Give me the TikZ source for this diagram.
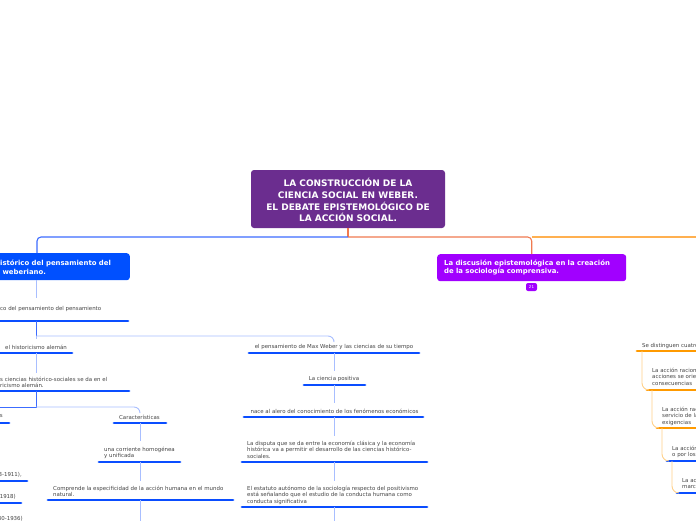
\documentclass[tikz,border=0pt]{standalone}
\usepackage{fontspec}
\setmainfont{DejaVu Sans}
\definecolor{rootc}{HTML}{6B2D8F}
\definecolor{ctxc}{HTML}{0050FF}
\definecolor{discc}{HTML}{A100FF}
\definecolor{ulc}{HTML}{0A4DFF}
\definecolor{olc}{HTML}{FF9A00}
\definecolor{lbc}{HTML}{A8BEFF}
\definecolor{dbc}{HTML}{3C6CFF}
\definecolor{loc}{HTML}{FFD18A}
\definecolor{txtc}{HTML}{444444}
\definecolor{rlc}{HTML}{F07A50}
\definecolor{orc}{HTML}{FFB050}
\begin{document}
\begin{tikzpicture}[x=1pt,y=-1pt,
 txt/.style={font=\fontsize{5.45}{6.7}\selectfont, text=txtc, inner sep=0pt, align=left, yshift=-1.2pt},
 btxt/.style={font=\bfseries\fontsize{6.9}{8.4}\selectfont, text=white, inner sep=0pt, align=left},
 uline/.style={draw=ulc, line width=2.8pt, line cap=round},
 oline/.style={draw=olc, line width=2.8pt, line cap=round},
 conn/.style={draw=lbc, line width=0.9pt, rounded corners=6pt},
 dconn/.style={draw=dbc, line width=1pt},
 oconn/.style={draw=loc, line width=0.9pt, rounded corners=7pt},
 rootbox/.style={fill=rootc, rounded corners=3pt, minimum width=194pt, minimum height=58pt, inner sep=0pt},
 roottxt/.style={text=white, font=\bfseries\fontsize{9}{11.7}\selectfont, align=center, inner sep=0pt},
 topbox/.style={rounded corners=3pt, minimum height=27pt, inner sep=0pt}]

\fill[white] (0,0) rectangle (696,520);
\useasboundingbox (0,0) rectangle (696,520);

% ---------- root and main branches ----------
\node[rootbox] (root) at (348,199) {};
\node[roottxt] (roott) at (348,200.3) {LA CONSTRUCCIÓN DE LA\\CIENCIA SOCIAL EN WEBER.\\EL DEBATE EPISTEMOLÓGICO DE\\LA ACCIÓN SOCIAL.};

\node[topbox, fill=ctxc, minimum width=200pt, anchor=north east] (ctx) at (130,253) {};
\node[btxt, anchor=north west] (ctxt) at (0,260.2) {\llap{Contexto h}istórico del pensamiento del\\\llap{pensamiento} weberiano.};

\node[topbox, fill=discc, text width=175pt, inner xsep=7pt, anchor=north west, font=\bfseries\fontsize{6.9}{8.4}\selectfont, text=white, align=left] (disc) at (437,254) {La discusión epistemológica en la creación\\de la sociología comprensiva.};
\node[fill=discc, rounded corners=2pt, minimum width=11pt, minimum height=8pt, inner sep=0pt, text=white, font=\fontsize{4}{4}\selectfont] (badge) at (531.5,287) {21};

\coordinate (hub) at (348,237);
\coordinate (ctxin) at (37,253);
\draw[draw=rlc, line width=1.1pt] (root.south) -- (hub);
\draw[draw=dbc, line width=1.1pt, rounded corners=4pt] (hub) -| (ctxin);
\draw[draw=rlc, line width=1.1pt, rounded corners=4pt] (hub) -| (disc.north);
\draw[draw=orc, line width=1.1pt] (disc.north |- hub) -- (700,237);

% ---------- left column ----------
\node[txt, anchor=north west] (ctxsub) at (0,304.3) {\llap{Contexto históri}co del pensamiento del pensamiento};
\draw[uline] (-5,321) -- (128,321);
\coordinate (ctxsubT) at (36,298);
\coordinate (ctxsubU) at (36,321);
\draw[conn] (ctx.south -| ctxsubT) -- (ctxsubT);

\coordinate (j1) at (36,336);
\node[txt, anchor=north west] (hist) at (5,343.3) {el historicismo alemán};
\draw[uline] (-5,353) -- (72,353);
\coordinate (histT) at (36,339);
\coordinate (histU) at (36,353);
\draw[dconn] (ctxsubU) -- (j1);
\draw[conn] (j1) -- (histT);

\node[txt, anchor=north west] (cienc) at (0,375.3) {\llap{El estudio de la}s ciencias histórico-sociales se da en el\\\llap{marco del histo}ricismo alemán.};
\draw[uline] (-5,391) -- (129,391);
\coordinate (ciencT) at (36,373);
\coordinate (ciencU) at (36,391);
\draw[conn] (histU) -- (ciencT);

\coordinate (j2) at (36,407);
\node[txt, anchor=north east] (repr) at (3,412.3) {Representantes};
\draw[uline] (-5,423) -- (9,423);
\node[txt, anchor=north] (carac) at (139.5,413.3) {Características};
\draw[uline] (114,423) -- (166,423);
\coordinate (caracT) at (140,413);
\coordinate (caracU) at (140,423);
\draw[dconn] (ciencU) -- (j2) -- (-6,407);
\draw[conn] (j2) -| (caracT);

\node[txt, anchor=north west] (homog) at (104,445.3) {una corriente homogénea\\y unificada};
\draw[uline] (99,462) -- (180,462);
\coordinate (homogT) at (140,441);
\coordinate (homogU) at (140,462);
\draw[conn] (caracU) -- (homogT);

\node[txt, anchor=north west] (compr) at (53,484.3) {Comprende la especificidad de la acción humana en el mundo\\natural.};
\draw[uline] (48,500) -- (233,500);
\coordinate (comprT) at (140,481);
\coordinate (comprU) at (140,500);
\coordinate (comprD) at (140,522);
\draw[conn] (homogU) -- (comprT);
\draw[conn] (comprU) -- (comprD);

\node[txt, anchor=north east] (dilt) at (22,471.3) {Wilhelm Dilthey (1833-1911),};
\draw[uline] (-5,481) -- (27,481);
\node[txt, anchor=north east] (simm) at (16,493.3) {Georg Simmel (1858-1918)};
\draw[uline] (-5,503) -- (21,503);
\node[txt, anchor=north east] (speng) at (23,515.3) {Oswald Spengler (1880-1936)};

% ---------- middle column ----------
\node[txt, anchor=north] (weber) at (334,343.3) {el pensamiento de Max Weber y las ciencias de su tiempo};
\draw[uline] (249,353) -- (419,353);
\coordinate (weberT) at (334,340);
\coordinate (weberU) at (334,353);
\draw[conn] (j1) -| (weberT);

\node[txt, anchor=north] (posit) at (334,375.3) {La ciencia positiva};
\draw[uline] (304,385) -- (365,385);
\coordinate (positT) at (334,371);
\coordinate (positU) at (334,385);
\draw[conn] (weberU) -- (positT);

\node[txt, anchor=north] (nace) at (334.5,407.3) {nace al alero del conocimiento de los fenómenos económicos};
\draw[uline] (244,417) -- (423,417);
\coordinate (naceT) at (334,403);
\coordinate (naceU) at (334,417);
\draw[conn] (positU) -- (naceT);

\node[txt, anchor=north west] (disp) at (247,439.3) {La disputa que se da entre la economía clásica y la economía\\histórica va a permitir el desarrollo de las ciencias histórico-\\sociales.};
\draw[uline] (242,462) -- (427,462);
\coordinate (dispT) at (334,436);
\coordinate (dispU) at (334,462);
\draw[conn] (naceU) -- (dispT);

\node[txt, anchor=north west] (estat) at (247,484.3) {El estatuto autónomo de la sociología respecto del positivismo\\está señalando que el estudio de la conducta humana como\\conducta significativa};
\draw[uline] (242,507) -- (427,507);
\coordinate (estatT) at (334,481);
\coordinate (estatU) at (334,507);
\coordinate (estatD) at (334,522);
\draw[conn] (dispU) -- (estatT);
\draw[conn] (estatU) -- (estatD);

% ---------- right column ----------
\node[txt, anchor=north west] (cuatro) at (642,341.3) {Se distinguen cuatro tipos de acción social};
\draw[oline] (637,351) -- (702,351);
\coordinate (cuatroU) at (642,351);

\node[txt, anchor=north west] (fines) at (652,366.3) {La acción racional con arreglo a fines: las\\acciones se orientan por los fines y sus\\consecuencias};
\draw[oline] (647,390) -- (702,390);
\coordinate (finesL) at (649,390);
\coordinate (finesU) at (652,390);
\draw[oconn] (cuatroU) |- (finesL);

\node[txt, anchor=north west] (valor) at (662,405.3) {La acción racional con arreglo a valores: al\\servicio de las propias convicciones y\\exigencias};
\draw[oline] (657,428) -- (702,428);
\coordinate (valorL) at (659,428);
\coordinate (valorU) at (662,428);
\draw[oconn] (finesU) |- (valorL);

\node[txt, anchor=north west] (afect) at (672,444.3) {La acción afectiva: determinada por afectos\\o por los estados sentimentales};
\draw[uline] (667,461) -- (702,461);
\coordinate (afectL) at (669,461);
\coordinate (afectU) at (672,461);
\draw[oconn] (valorU) |- (afectL);

\node[txt, anchor=north west] (trad) at (682,476.3) {La acción tradicional: determinada por\\marcadas costumbres};
\draw[uline] (677,493) -- (702,493);
\coordinate (tradL) at (679,493);
\draw[oconn] (afectU) |- (tradL);
\end{tikzpicture}
\end{document}
